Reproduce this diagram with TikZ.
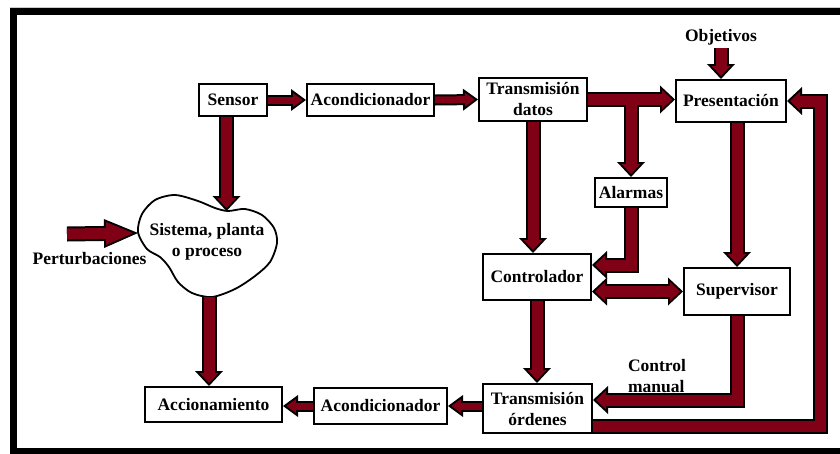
\documentclass[tikz,border=0pt]{standalone}
\usepackage{fontspec}
\setmainfont{Liberation Serif}
\usetikzlibrary{arrows.meta}
\definecolor{vino}{RGB}{128,0,22}
\tikzset{
  tipn/.tip={Triangle[width=28pt,length=15pt,line width=0pt]},
  tipr/.tip={Triangle[width=19pt,length=10pt,line width=0pt]},
  tipnc/.tip={Triangle[width=22pt,length=15pt,line width=0pt]},
  tiprc/.tip={Triangle[width=14pt,length=9.6pt,line width=0pt]},
  tipnl/.tip={Triangle[width=29pt,length=34pt,line width=0pt]},
  tiprl/.tip={Triangle[width=23pt,length=27pt,line width=0pt]},
  flecha/.style={draw=vino, line width=11pt, -{tipr}, shorten >=3pt,
    preaction={draw=black, line width=15pt, -{tipn}, shorten >=0pt}},
  flechas/.style={draw=vino, line width=11pt, {tipr}-{tipr}, shorten >=3pt, shorten <=3pt,
    preaction={draw=black, line width=15pt, {tipn}-{tipn}, shorten >=0pt, shorten <=0pt}},
  flechita/.style={draw=vino, line width=7pt, -{tiprc}, shorten >=3.4pt,
    preaction={draw=black, line width=11pt, -{tipnc}, shorten >=0pt}},
  flechalarga/.style={draw=vino, line width=11pt, -{tiprl}, shorten >=5pt,
    preaction={draw=black, line width=15pt, -{tipnl}, shorten >=0pt}},
  nucleo/.style={draw=vino, line width=11pt},
  caja/.style={draw, line width=2pt, fill=white, inner sep=1pt, align=center},
}
\begin{document}
\begin{tikzpicture}[x=1pt,y=-1pt,every node/.style={font=\bfseries\fontsize{17.5}{21}\selectfont}]
\useasboundingbox (0,0) rectangle (840,453);

% marco
\draw[gray!40, line width=1pt] (10,7) -- (840,7);
\draw[line width=7pt] (840,11.5) -- (13.5,11.5) -- (13.5,451.5) -- (840,451.5);

% planta
\draw[line width=1.8pt, fill=white] plot[smooth cycle] coordinates {(138,232) (142,214) (155,200) (175,195) (198,201) (215,208) (228,211) (245,209) (262,215) (274,228) (277,243) (270,262) (255,276) (235,289) (212,297) (192,293) (178,282) (169,267) (160,257) (147,249)};
\node(sis) at (207,242) [align=center] {Sistema, planta\\o proceso};
\coordinate (sis-n) at (226.5,211);
\coordinate (sis-w) at (138,233);
\coordinate (sis-s) at (209,297);

\node(sen) at (233,100) [caja, minimum width=68, minimum height=32] {Sensor};
\node(aco1) at (370.5,100) [caja, minimum width=127, minimum height=32] {Acondicionador};
\node(td) at (533,99.5) [caja, minimum width=108, minimum height=43] {Transmisión\\datos};
\node(pre) at (731,101) [caja, minimum width=110, minimum height=42] {Presentación};
\node(obj) at (721,37) {Objetivos};
\node(al) at (631,192.5) [caja, minimum width=72, minimum height=29] {Alarmas};
\node(ctl) at (537,277) [caja, minimum width=108, minimum height=46] {Controlador};
\node(sup) at (737,291.5) [caja, minimum width=106, minimum height=47] {Supervisor};
\node(tor) at (537.5,408.5) [caja, minimum width=109, minimum height=49] {Transmisión\\órdenes};
\node(aco2) at (380.5,406) [caja, minimum width=133, minimum height=36] {Acondicionador};
\node(acc) at (213.5,404.5) [caja, minimum width=137, minimum height=35] {Accionamiento};
\node(pert) at (89.5,259) {Perturbaciones};
\node(man) at (657,376) [align=left] {Control\\manual};
\coordinate (pa) at (67,234);

% cadena de medida
\draw[flechita] (sen.east) -- (aco1.west);
\draw[flechita] (aco1.east) -- (td.west);
\draw[flecha] (td.east) -- (td.east -| pre.west);
\draw[flecha] (td.east -| al.north) -- (al.north);
\draw[nucleo] (td.east) -- ([xshift=12pt]td.east -| al.north);
\draw[flecha] (obj.south) -- (obj.south |- pre.north);

% control
\draw[flecha] (td.south) -- (td.south |- ctl.north);
\draw[flecha] (al.south) |- ([yshift=12pt]ctl.east);
\draw[flecha] (sup.north |- pre.south) -- (sup.north);
\draw[flechas] (sup.west -| ctl.east) -- (sup.west);
\draw[flecha] (ctl.south) -- (ctl.south |- tor.north);
\draw[flecha] (sup.south) |- ([yshift=8.5pt]tor.east);
\draw[flecha] ([yshift=-17.5pt]tor.east) -| ([xshift=33pt]pre.east) -- (pre.east);

% actuacion
\draw[flechita] (tor.west |- aco2.east) -- (aco2.east);
\draw[flechita] (aco2.west) -- (acc.east |- aco2.west);
\draw[flecha] (sen.south -| sis-n) -- (sis-n);
\draw[flecha] (sis-s) -- (sis-s |- acc.north);
\draw[flechalarga] (pa) -- (sis-w);

\end{tikzpicture}
\end{document}
